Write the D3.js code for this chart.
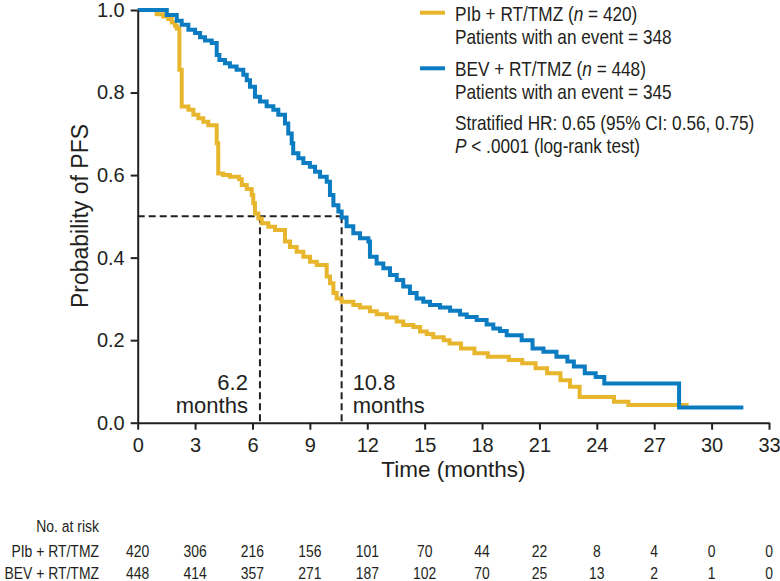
<!DOCTYPE html>
<html><head><meta charset="utf-8">
<script src="https://cdn.jsdelivr.net/npm/d3@7"></script>
<style>
body{margin:0;background:#fff;}
svg{display:block;}
</style></head>
<body>
<svg id="chart" width="780" height="581"></svg>
<script>
// ---- data ----
const plbTime = [0,0.99,1.34,1.60,1.78,1.95,2.04,2.18,2.30,2.65,2.91,3.17,3.43,3.69,4.13,4.21,4.47,4.82,5.30,5.44,5.70,5.96,6.04,6.13,6.31,6.48,6.83,7.18,7.70,7.96,8.31,8.66,9.01,9.36,9.88,10.05,10.23,10.40,10.66,11.27,11.62,12.14,12.50,13.02,13.54,13.88,14.41,14.76,15.11,15.45,16.0,16.3,16.9,17.6,18.3,19.4,20.1,20.8,21.4,22.1,22.6,23.1,24.9,25.65,28.8];
const plbSurv = [1.0,0.990,0.984,0.978,0.970,0.962,0.955,0.855,0.766,0.758,0.746,0.738,0.729,0.721,0.677,0.604,0.600,0.596,0.590,0.576,0.566,0.552,0.532,0.507,0.495,0.483,0.475,0.467,0.439,0.426,0.414,0.402,0.390,0.382,0.354,0.338,0.314,0.301,0.293,0.285,0.279,0.270,0.263,0.255,0.245,0.237,0.232,0.221,0.215,0.207,0.200,0.192,0.180,0.168,0.160,0.152,0.144,0.132,0.120,0.103,0.087,0.062,0.051,0.043,0.043];
const bevTime = [0,1.52,2.04,2.30,2.65,3.00,3.26,3.52,3.87,4.13,4.27,4.56,4.82,5.17,5.52,5.70,5.87,6.13,6.39,6.74,7.09,7.35,7.70,7.87,8.05,8.13,8.40,8.66,9.00,9.27,9.53,9.88,10.05,10.23,10.49,10.66,10.92,11.27,11.62,12.06,12.14,12.49,12.84,13.19,13.54,13.88,14.23,14.58,14.93,15.28,15.80,16.33,16.85,17.20,17.72,18.24,18.59,18.94,19.29,20.07,20.64,21.21,21.89,22.46,22.80,23.37,23.94,24.39,28.3,31.66];
const bevSurv = [1.0,0.988,0.974,0.964,0.952,0.944,0.934,0.926,0.920,0.891,0.879,0.871,0.863,0.855,0.843,0.830,0.814,0.790,0.778,0.767,0.758,0.746,0.725,0.701,0.677,0.653,0.641,0.629,0.620,0.608,0.596,0.584,0.552,0.527,0.512,0.497,0.476,0.459,0.447,0.439,0.402,0.386,0.374,0.358,0.346,0.330,0.314,0.301,0.293,0.285,0.279,0.271,0.262,0.256,0.249,0.238,0.228,0.222,0.212,0.200,0.180,0.172,0.160,0.148,0.136,0.120,0.111,0.095,0.037,0.037];
const xTicks = [0,3,6,9,12,15,18,21,24,27,30,33];
const yTicks = [0,0.2,0.4,0.6,0.8,1.0];
const medianPos = [6.39, 10.66];
const medianLabels = ["6.2", "10.8"];
const riskGroups = ["PIb + RT/TMZ", "BEV + RT/TMZ"];
const riskPlb = [420,306,216,156,101,70,44,22,8,4,0,0];
const riskBev = [448,414,357,271,187,102,70,25,13,2,1,0];

// ---- layout ----
const svg = d3.select("#chart");
const x = d3.scaleLinear().domain([0,33]).range([137.7,769]);
const y = d3.scaleLinear().domain([0,1]).range([422.7,10]);
const ink = "#231f20";
const colPlb = "#e8b62c", colBev = "#0b7cc1";
const font = "'Liberation Sans', Arial, sans-serif";
const squeeze = 0.82; // condensed face look

// dashed median lines
const dash = svg.append("g").attr("stroke", ink).attr("stroke-width", 2).attr("stroke-dasharray", "7,4").attr("fill","none");
dash.append("line").attr("x1", x(0)).attr("x2", x(medianPos[1])).attr("y1", y(0.5)).attr("y2", y(0.5));
medianPos.forEach(m => {
  dash.append("line").attr("x1", x(m)).attr("x2", x(m)).attr("y1", y(0.5)).attr("y2", y(0));
});

// curves
const line = d3.line().x(d => x(d[0])).y(d => y(d[1])).curve(d3.curveStepAfter);
svg.append("path").datum(plbTime.map((t,i)=>[t,plbSurv[i]]))
  .attr("d", line).attr("fill","none").attr("stroke", colPlb).attr("stroke-width", 4);
svg.append("path").datum(bevTime.map((t,i)=>[t,bevSurv[i]]))
  .attr("d", line).attr("fill","none").attr("stroke", colBev).attr("stroke-width", 4);

// axes
const yAxis = svg.append("g").attr("transform", `translate(${x(0)},0)`)
  .call(d3.axisLeft(y).tickValues(yTicks).tickFormat(d3.format(".1f")).tickSize(7).tickSizeOuter(0).tickPadding(6));
const xAxis = svg.append("g").attr("transform", `translate(0,${y(0)})`)
  .call(d3.axisBottom(x).tickValues(xTicks).tickFormat(d3.format("d")).tickSize(7).tickSizeOuter(0).tickPadding(8));
[yAxis, xAxis].forEach(g => {
  g.selectAll("path,line").attr("stroke", ink).attr("stroke-width", 2);
  g.selectAll("text").attr("fill", ink).style("font-family", font).style("font-size", "20px");
});

// axis titles
svg.append("text").attr("x", x(16.5)).attr("y", 477).attr("text-anchor","middle")
  .style("font-family", font).style("font-size","22.5px").attr("fill", ink).text("Time (months)");
svg.append("text").attr("transform", "translate(88,216) rotate(-90)").attr("text-anchor","middle")
  .style("font-family", font).style("font-size","23px").attr("fill", ink).text("Probability of PFS");

// median labels
const ml = svg.append("g").style("font-family", font).style("font-size","22px").attr("fill", ink);
ml.append("text").attr("x", x(medianPos[0]) - 12).attr("y", 390).attr("text-anchor","end").text(medianLabels[0]);
ml.append("text").attr("x", x(medianPos[0]) - 12).attr("y", 413).attr("text-anchor","end").text("months");
ml.append("text").attr("x", x(medianPos[1]) + 11).attr("y", 390).attr("text-anchor","start").text(medianLabels[1]);
ml.append("text").attr("x", x(medianPos[1]) + 11).attr("y", 413).attr("text-anchor","start").text("months");

// condensed text helper
function ctext(parent, xx, yy, anchor){
  return parent.append("g").attr("transform", `translate(${xx},${yy}) scale(${squeeze},1)`)
    .append("text").attr("x",0).attr("y",0).attr("text-anchor", anchor);
}

// legend
const lg = svg.append("g").style("font-family", font).style("font-size","21px").attr("fill", ink);
lg.append("line").attr("x1",420).attr("x2",445).attr("y1",12.7).attr("y2",12.7).attr("stroke",colPlb).attr("stroke-width",4);
lg.append("line").attr("x1",420).attr("x2",445).attr("y1",68.3).attr("y2",68.3).attr("stroke",colBev).attr("stroke-width",4);
function richLine(yy, parts){
  const t = ctext(lg, 455, yy, "start");
  parts.forEach(p => t.append("tspan").style("font-style", p[1] ? "italic":"normal").text(p[0]));
}
richLine(20.7, [["PIb + RT/TMZ ("],["n",1],[" = " + riskPlb[0] + ")"]]);
richLine(43.5, [["Patients with an event = 348"]]);
richLine(76, [["BEV + RT/TMZ ("],["n",1],[" = " + riskBev[0] + ")"]]);
richLine(99, [["Patients with an event = 345"]]);
richLine(129.5, [["Stratified HR: 0.65 (95% CI: 0.56, 0.75)"]]);
richLine(153, [["P",1],[" < .0001 (log-rank test)"]]);

// at-risk table
const rt = svg.append("g").style("font-family", font).style("font-size","17px").attr("fill", ink);
ctext(rt, 99, 532, "end").text("No. at risk");
[riskPlb, riskBev].forEach((row, r) => {
  const yy = 557 + r*22;
  ctext(rt, 99, yy, "end").text(riskGroups[r]);
  row.forEach((d,i) => ctext(rt, x(xTicks[i]), yy, "middle").text(d));
});
</script>
</body></html>
